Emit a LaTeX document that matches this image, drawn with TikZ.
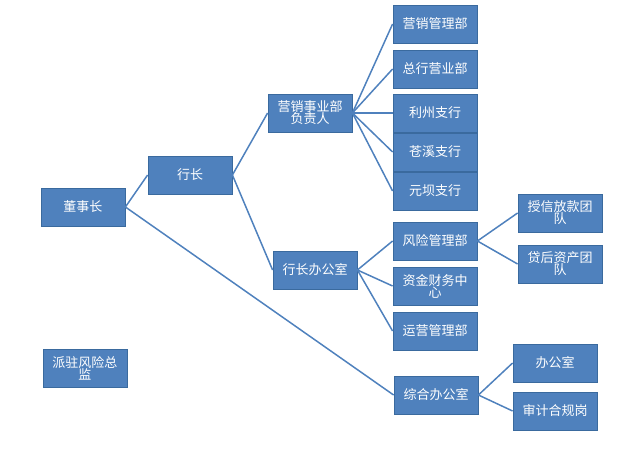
\documentclass[tikz,border=0pt]{standalone}
\usepackage{fontspec}
\setmainfont{Noto Sans CJK SC}
\definecolor{bx}{HTML}{4F81BD}
\definecolor{bd}{HTML}{3A6A9E}
\begin{document}
\begin{tikzpicture}[x=1pt,y=-1pt,
 box/.style={draw=bd,fill=bx,line width=0.8pt,text=white,minimum width=84pt,minimum height=38pt,inner sep=1pt,align=center,text width=80pt,font=\fontsize{13}{15}\selectfont},
 ln/.style={draw=bx,line width=1.5pt}]
\useasboundingbox (0,0) rectangle (625,455);
\node[box] (dsz) at (83,207) {董事长};
\node[box] (hz) at (190,175) {行长};
\node[box] (yx) at (310,113) {营销事业部\\[-3pt]负责人};
\node[box] (hb) at (315,270) {行长办公室};
\node[box] (a1) at (435,24) {营销管理部};
\node[box] (a2) at (435,69) {总行营业部};
\node[box] (a3) at (435,113) {利州支行};
\node[box] (a4) at (435,152) {苍溪支行};
\node[box] (a5) at (435,191) {元坝支行};
\node[box] (b1) at (435,241) {风险管理部};
\node[box] (b2) at (435,286) {资金财务中\\[-3pt]心};
\node[box] (b3) at (435,331) {运营管理部};
\node[box] (c1) at (560,213) {授信放款团\\[-3pt]队};
\node[box] (c2) at (560,264) {贷后资产团\\[-3pt]队};
\node[box] (zh) at (436,395) {综合办公室};
\node[box] (d1) at (555,363) {办公室};
\node[box] (d2) at (555,411) {审计合规岗};
\node[box] (pz) at (85,368) {派驻风险总\\[-3pt]监};
\draw[ln] (dsz.east) -- (hz.west);
\draw[ln] (dsz.east) -- (zh.west);
\draw[ln] (hz.east) -- (yx.west);
\draw[ln] (hz.east) -- (hb.west);
\foreach \n in {a1,a2,a3,a4,a5} \draw[ln] (yx.east) -- (\n.west);
\foreach \n in {b1,b2,b3} \draw[ln] (hb.east) -- (\n.west);
\foreach \n in {c1,c2} \draw[ln] (b1.east) -- (\n.west);
\foreach \n in {d1,d2} \draw[ln] (zh.east) -- (\n.west);
\end{tikzpicture}
\end{document}
